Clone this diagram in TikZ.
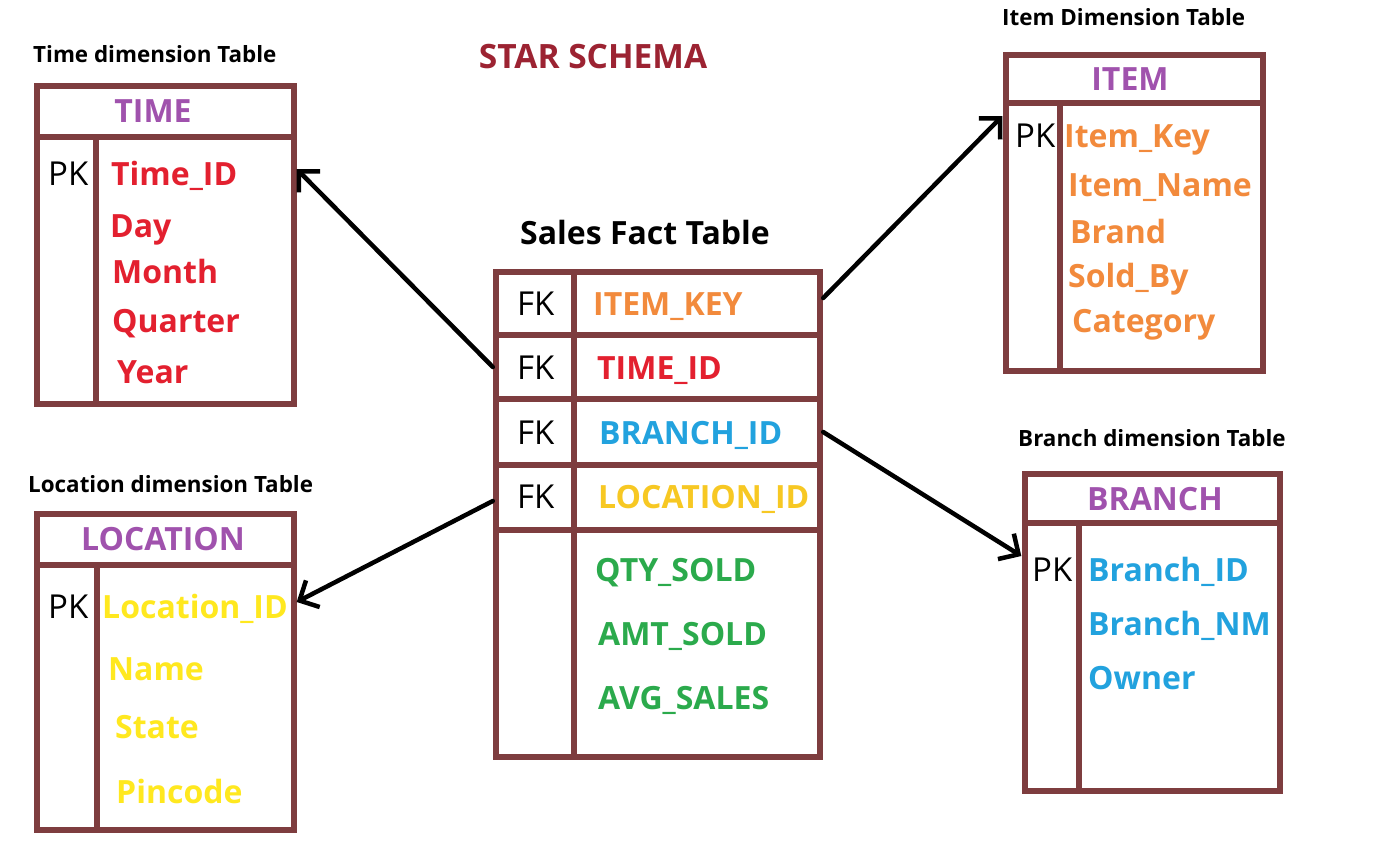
\documentclass[tikz,border=0pt]{standalone}
\usepackage{fontspec}
\setmainfont{Open Sans}
\usetikzlibrary{arrows.meta}
\definecolor{bord}{HTML}{7E3D3F}
\definecolor{ttl}{HTML}{A052AD}
\definecolor{tred}{HTML}{E3202F}
\definecolor{torange}{HTML}{F28A3C}
\definecolor{tyellow}{HTML}{FFE81F}
\definecolor{tgold}{HTML}{F7C823}
\definecolor{tblue}{HTML}{22A2DE}
\definecolor{tgreen}{HTML}{2BAA4C}
\definecolor{star}{HTML}{9C2332}
\newcommand\fldfont{\fontsize{32}{32}\selectfont\bfseries}
\newcommand\keyfont{\fontsize{33}{33}\selectfont}
\newcommand\lblfont{\fontsize{22.4}{22.4}\selectfont\bfseries}
\newcommand\bigfont{\fontsize{32}{32}\selectfont\bfseries}
\begin{document}
\begin{tikzpicture}[x=1pt,y=-1pt,
  tblbox/.style={draw=bord,line width=6pt,inner sep=0pt},
  divline/.style={draw=bord,line width=6pt},
  fld/.style={anchor=base west,inner sep=0pt,font=\fldfont},
  keyl/.style={anchor=base west,inner sep=0pt,font=\keyfont},
  ttlnode/.style={anchor=base,inner sep=0pt,font=\fldfont,text=ttl},
  lbl/.style={anchor=base west,inner sep=0pt,font=\lblfont},
  rowpt/.style={minimum width=#1,minimum height=1pt,inner sep=0pt},
  conn/.style={line width=4.5pt,line cap=round,line join=round,-{Straight Barb[length=15pt,width=30pt,line width=4.5pt]}}]
\useasboundingbox (0,0) rectangle (1380,860);
\fill[white] (0,0) rectangle (1380,860);

% title
\node[anchor=base,inner sep=0pt,font=\fontsize{33.5}{33.5}\selectfont\bfseries,text=star] (title) at (593,68) {STAR SCHEMA};

% ---------- TIME ----------
\node[lbl] (timelbl) at (33,62) {Time dimension Table};
\node[tblbox,minimum width=257pt,minimum height=318pt] (timeT) at (165.5,245) {};
\draw[divline] (timeT.west |- 0,137) -- (timeT.east |- 0,137);
\draw[divline] (96,137) -- (96,404);
\node[ttlnode] (timettl) at (153,122) {TIME};
\node[keyl] (timepkl) at (48,185) {PK};
\node[fld,text=tred] (t1) at (111,185) {Time\_ID};
\node[fld,text=tred] (t2) at (110,237) {Day};
\node[fld,text=tred] (t3) at (112,283) {Month};
\node[fld,text=tred] (t4) at (112,332) {Quarter};
\node[fld,text=tred] (t5) at (117,383) {Year};
\node[rowpt=262pt] (timepk) at (165.5,169) {};

% ---------- ITEM ----------
\node[lbl] (itemlbl) at (1002,25) {Item Dimension Table};
\node[tblbox,minimum width=257pt,minimum height=316pt] (itemT) at (1134.5,213) {};
\draw[divline] (itemT.west |- 0,103) -- (itemT.east |- 0,103);
\draw[divline] (1060,103) -- (1060,371);
\node[ttlnode] (itemttl) at (1130,90) {ITEM};
\node[keyl] (itempkl) at (1015,147) {PK};
\node[fld,text=torange] (i1) at (1064,147) {Item\_Key};
\node[fld,text=torange] (i2) at (1068,196) {Item\_Name};
\node[fld,text=torange] (i3) at (1070,243) {Brand};
\node[fld,text=torange] (i4) at (1068,287) {Sold\_By};
\node[fld,text=torange] (i5) at (1072,332) {Category};
\node[rowpt=264pt] (itempk) at (1134.5,116) {};

% ---------- LOCATION ----------
\node[lbl] (loclbl) at (28,492) {Location dimension Table};
\node[tblbox,minimum width=257pt,minimum height=316pt] (locT) at (165.5,672) {};
\draw[divline] (locT.west |- 0,565) -- (locT.east |- 0,565);
\draw[divline] (97,565) -- (97,830);
\node[ttlnode] (locttl) at (163,550) {LOCATION};
\node[keyl] (locpkl) at (48,618) {PK};
\node[fld,text=tyellow] (l1) at (102,618) {Location\_ID};
\node[fld,text=tyellow] (l2) at (108,680) {Name};
\node[fld,text=tyellow] (l3) at (115,738) {State};
\node[fld,text=tyellow] (l4) at (116,803) {Pincode};
\node[rowpt=262pt] (locpk) at (165.5,602) {};

% ---------- BRANCH ----------
\node[lbl] (brlbl) at (1018,446) {Branch dimension Table};
\node[tblbox,minimum width=255pt,minimum height=317pt] (brT) at (1152.5,632.5) {};
\draw[divline] (brT.west |- 0,523) -- (brT.east |- 0,523);
\draw[divline] (1079,523) -- (1079,791);
\node[ttlnode] (brttl) at (1155,510) {BRANCH};
\node[keyl] (brpkl) at (1032,581) {PK};
\node[fld,text=tblue] (b1) at (1088,581) {Branch\_ID};
\node[fld,text=tblue] (b2) at (1088,635) {Branch\_NM};
\node[fld,text=tblue] (b3) at (1088,689) {Owner};
\node[rowpt=262pt] (brpk) at (1152.5,556) {};

% ---------- FACT ----------
\node[anchor=base,inner sep=0pt,font=\bigfont] (factlbl) at (645,244) {Sales Fact Table};
\node[tblbox,minimum width=324pt,minimum height=485pt] (factT) at (658,514.5) {};
\foreach \yy in {335,399,465,530}{
  \draw[divline] (factT.west |- 0,\yy) -- (factT.east |- 0,\yy);
}
\draw[divline] (574,272) -- (574,757);
\node[keyl] (fk1) at (517,315) {FK};
\node[keyl] (fk2) at (517,379) {FK};
\node[keyl] (fk3) at (517,444) {FK};
\node[keyl] (fk4) at (517,508) {FK};
\node[fld,text=torange] (f1) at (593,315) {ITEM\_KEY};
\node[fld,text=tred] (f2) at (597,379) {TIME\_ID};
\node[fld,text=tblue] (f3) at (599,444) {BRANCH\_ID};
\node[fld,text=tgold] (f4) at (598,508) {LOCATION\_ID};
\node[fld,text=tgreen] (f5) at (595,581) {QTY\_SOLD};
\node[fld,text=tgreen] (f6) at (598,645) {AMT\_SOLD};
\node[fld,text=tgreen] (f7) at (598,709) {AVG\_SALES};
\node[rowpt=330pt] (fitem) at (658,298) {};
\node[rowpt=330pt] (ftime) at (658,367) {};
\node[rowpt=330pt] (fbranch) at (658,432) {};
\node[rowpt=330pt] (floc) at (658,501) {};

% ---------- connectors ----------
\draw[conn] (ftime.west) -- (timepk.east);
\draw[conn] (fitem.east) -- (itempk.west);
\draw[conn] (fbranch.east) -- (brpk.west);
\draw[conn] (floc.west) -- (locpk.east);
\end{tikzpicture}
\end{document}
